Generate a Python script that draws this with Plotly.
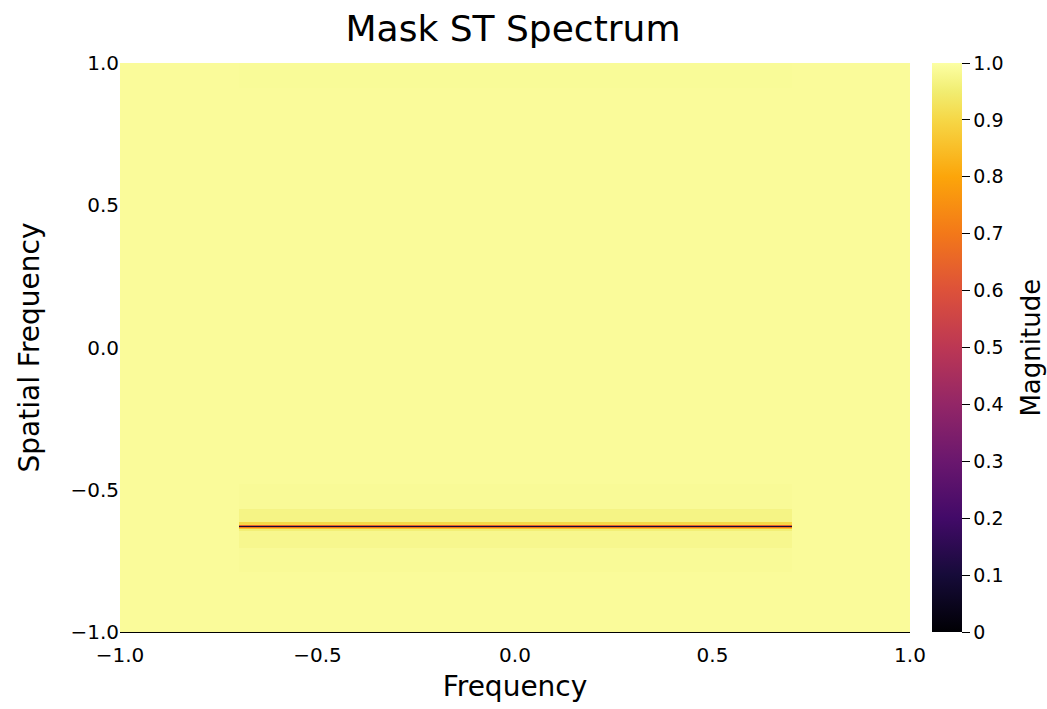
import plotly.graph_objects as go

# Cell edges of the spectrum grid
x_edges = [-1.0, -0.7, 0.7, 1.0]
y_edges = [-1.0, -0.79, -0.706, -0.645, -0.637, -0.6335, -0.630, -0.6265, -0.623, -0.615,
           -0.566, -0.48, 0.912, 1.0]

# Magnitude per row (bottom -> top): outer columns, inner column
outer_vals = [0.99] * 13
inner_vals = [0.99, 0.987, 0.978, 0.955, 0.86, 0.7, 0.1, 0.64, 0.9, 0.97, 0.987, 0.99, 0.988]

z = [[o, i, o] for o, i in zip(outer_vals, inner_vals)]

tick_vals = [-1.0, -0.5, 0.0, 0.5, 1.0]
tick_text = ["\u22121.0", "\u22120.5", "0.0", "0.5", "1.0"]
cb_vals = [0, 0.1, 0.2, 0.3, 0.4, 0.5, 0.6, 0.7, 0.8, 0.9, 1.0]
cb_text = ["0", "0.1", "0.2", "0.3", "0.4", "0.5", "0.6", "0.7", "0.8", "0.9", "1.0"]

inferno = [
    [0.0, "#000004"], [0.1, "#160b39"], [0.2, "#420a68"], [0.3, "#6a176e"],
    [0.4, "#932667"], [0.5, "#bc3754"], [0.6, "#dd513a"], [0.7, "#f37819"],
    [0.8, "#fca50a"], [0.9, "#f6d746"], [0.95, "#f1ed71"], [1.0, "#fcffa4"],
]

font = "DejaVu Sans"

fig = go.Figure(go.Heatmap(
    x=x_edges, y=y_edges, z=z,
    zmin=0, zmax=1, colorscale=inferno,
    colorbar=dict(
        x=1.028, xanchor="left", y=0, yanchor="bottom", len=1, lenmode="fraction",
        thickness=30, thicknessmode="pixels",
        tickvals=cb_vals, ticktext=cb_text, ticks="outside", ticklen=8,
        tickcolor="black", outlinewidth=0,
        tickfont=dict(family=font, size=19, color="black"),
        xpad=0, ypad=0,
    ),
    hoverinfo="skip",
))

fig.add_annotation(
    text="Magnitude", xref="paper", yref="paper", x=1.152, y=0.5,
    xanchor="center", yanchor="middle", textangle=-90, showarrow=False,
    font=dict(family=font, size=26, color="black"),
)

fig.update_layout(
    width=1047, height=709,
    margin=dict(l=120, r=137, t=63, b=75),
    paper_bgcolor="white", plot_bgcolor="white",
    title=dict(text="Mask ST Spectrum", x=0.49, xanchor="center", y=0.96, yanchor="middle",
               font=dict(family=font, size=36, color="black")),
    xaxis=dict(
        range=[-1, 1], tickvals=tick_vals, ticktext=tick_text,
        showgrid=False, zeroline=False, showline=True, linecolor="black", linewidth=1,
        ticks="", ticklabelstandoff=5, tickfont=dict(family=font, size=20, color="black"),
        title=dict(text="Frequency", font=dict(family=font, size=28, color="black"), standoff=10),
    ),
    yaxis=dict(
        range=[-1, 1], tickvals=tick_vals, ticktext=tick_text,
        showgrid=False, zeroline=False, showline=False,
        ticks="", tickfont=dict(family=font, size=20, color="black"),
        title=dict(text="Spatial Frequency", font=dict(family=font, size=28, color="black"), standoff=22),
    ),
)

fig.write_html("out.html")
